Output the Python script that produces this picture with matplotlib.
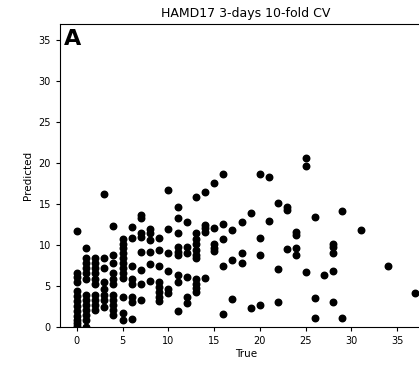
import numpy as np
from matplotlib import pyplot as plt

# True HAMD17 scores and the cross-validated predictions, one row per true score.
true_scores = (
    [0] * 13 + [1] * 13 + [2] * 10 + [3] * 8 + [4] * 11 + [5] * 12 + [6] * 8
    + [7] * 8 + [8] * 6 + [9] * 8 + [10] * 6 + [11] * 9 + [12] * 6 + [13] * 11
    + [14] * 5 + [15] * 5 + [16] * 5 + [17] * 3 + [18] * 3 + [19] * 2
    + [20] * 4 + [21] * 2 + [22] * 3 + [23] * 3 + [24] * 4 + [25] * 3
    + [26] * 3 + [27] * 1 + [28] * 5 + [29] * 2 + [31] * 1 + [34] * 1 + [37] * 1
)
predicted_scores = [
    11.7, 6.6, 6.1, 5.5, 4.4, 3.8, 3.2, 2.6, 2.0, 1.4, 0.9, 0.5, 0.1,
    9.6, 8.4, 7.8, 7.2, 6.6, 5.9, 3.9, 3.3, 2.7, 2.1, 1.5, 0.9, 0.0,
    8.4, 7.8, 7.2, 6.6, 5.9, 5.3, 3.9, 3.3, 2.7, 2.1,
    16.3, 8.4, 7.2, 5.5, 4.7, 3.9, 3.3, 2.5,
    12.3, 8.8, 7.8, 6.6, 5.9, 5.3, 3.9, 3.3, 2.7, 2.1, 1.5,
    10.8, 10.2, 9.6, 9.0, 8.4, 7.8, 7.2, 6.6, 6.0, 3.7, 1.7, 0.9,
    12.2, 10.9, 7.5, 5.9, 5.3, 3.7, 3.1, 1.0,
    13.7, 13.3, 11.5, 11.0, 9.2, 7.0, 5.3, 3.3,
    12.0, 11.5, 10.6, 9.2, 7.7, 5.6,
    10.9, 9.4, 7.4, 5.5, 4.9, 4.3, 3.7, 3.2,
    16.7, 12.0, 9.1, 6.8, 4.7, 4.1,
    14.7, 13.3, 11.5, 9.8, 9.2, 8.8, 6.4, 5.5, 2.0,
    12.8, 9.8, 9.0, 6.1, 3.7, 2.9,
    15.9, 11.5, 10.8, 10.2, 9.4, 8.8, 8.4, 5.9, 5.3, 4.8, 4.3,
    16.5, 12.5, 12.1, 11.6, 6.0,
    17.6, 12.1, 10.1, 9.7, 9.3,
    18.7, 12.6, 10.8, 7.5, 1.6,
    11.9, 8.2, 3.4,
    12.8, 9.0, 7.8,
    13.9, 2.3,
    18.7, 10.9, 8.8, 2.7,
    18.3, 13.0,
    15.2, 7.1, 3.1,
    14.7, 14.3, 9.5,
    11.6, 11.3, 9.7, 8.8,
    20.7, 19.7, 6.7,
    13.4, 3.6, 1.1,
    6.4,
    10.1, 9.8, 9.0, 6.8, 3.0,
    14.2, 1.1,
    11.8,
    7.5,
    4.2,
]

true_scores = np.asarray(true_scores)
predicted_scores = np.asarray(predicted_scores)

fig = plt.figure(figsize=(4.19, 3.65), dpi=100)
# the right edge of the axes falls outside the picture, as in the original crop
ax = fig.add_axes([0.143, 0.104, 0.889, 0.830])

ax.scatter(true_scores, predicted_scores, color='black', s=22)
ax.set_ylim(0, 37)
ax.set_xlim(-1.85, 38.85)
ax.set_xticks(np.arange(0, 40, 5))
ax.set_yticks(np.arange(0, 40, 5))
ax.tick_params(labelsize=7, length=3)
ax.set_xlabel('True', fontsize=7.5, labelpad=2)
ax.set_ylabel('Predicted', fontsize=7.5, labelpad=4)
ax.set_title('HAMD17 3-days 10-fold CV', fontsize=9, pad=5)
ax.text(0.012, 0.985, 'A', transform=ax.transAxes, fontsize=16,
        fontweight='bold', ha='left', va='top')

fig.savefig('out.png', dpi=100)
